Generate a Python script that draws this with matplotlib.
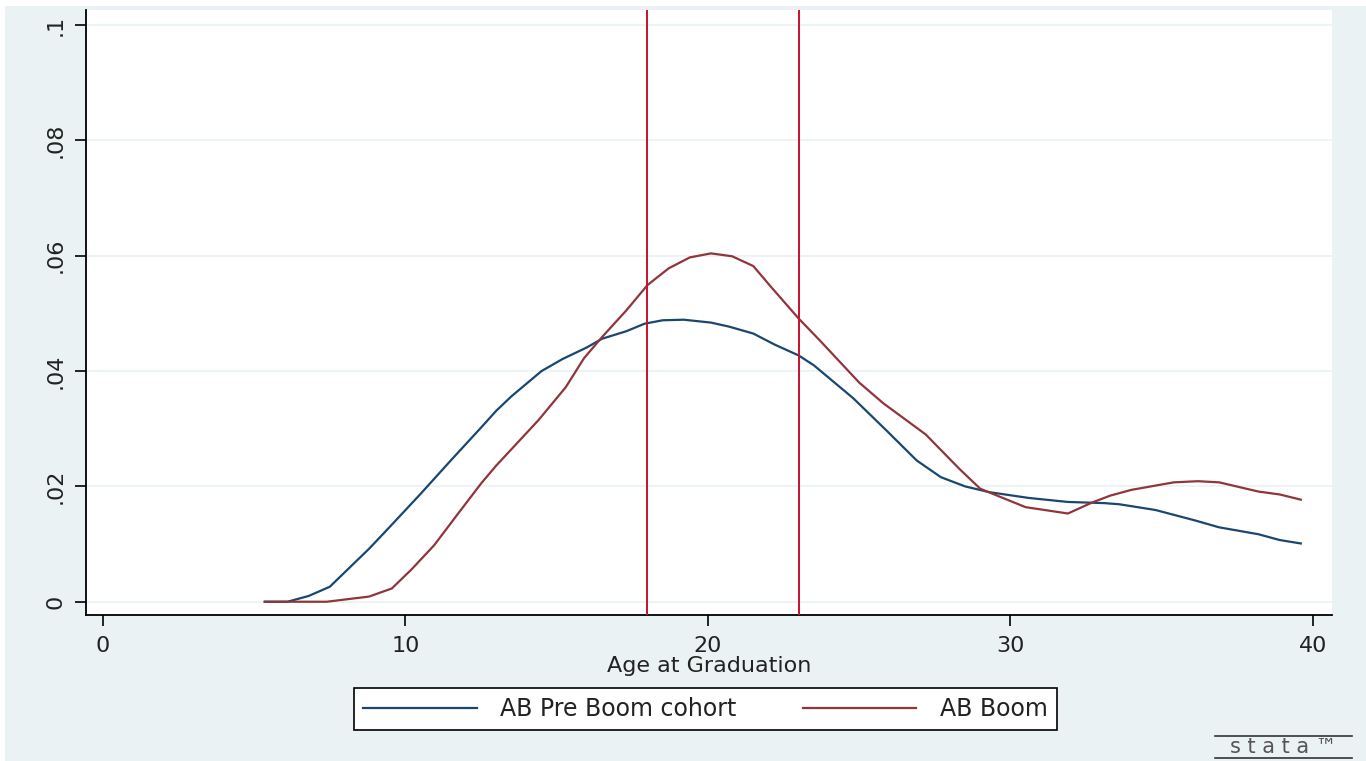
import matplotlib.pyplot as plt
from matplotlib.patches import Rectangle
from matplotlib.lines import Line2D

plt.rcParams['font.family'] = ['DejaVu Sans']

# kernel density estimates
age_pre = [5.35, 6.1, 6.8, 7.5, 8.8, 9.45, 10.5, 11.5, 12.5, 13.0, 13.5, 14.5, 15.2, 16.0,
           16.5, 17.3, 17.9, 18.5, 19.2, 20.1, 20.7, 21.5, 22.2, 23.0, 23.5, 24.8, 25.9,
           26.9, 27.7, 28.5, 29.3, 30.6, 31.9, 33.1, 33.6, 34.8, 36.1, 36.9, 38.2, 38.9, 39.6]
dens_pre = [0.0, 0.0, 0.001, 0.0026, 0.0092, 0.0128, 0.0187, 0.0245, 0.0302, 0.0331, 0.0356,
            0.040, 0.0421, 0.0441, 0.0456, 0.0469, 0.0482, 0.0488, 0.0489, 0.0484, 0.0477,
            0.0465, 0.0446, 0.0427, 0.041, 0.0353, 0.0297, 0.0245, 0.0216, 0.020, 0.019,
            0.018, 0.0173, 0.0171, 0.0169, 0.0159, 0.0141, 0.0129, 0.0117, 0.0107, 0.0101]

age_boom = [5.35, 7.4, 8.8, 9.55, 10.2, 10.95, 11.7, 12.5, 13.0, 14.4, 15.3, 15.9, 16.5,
            17.3, 18.0, 18.7, 19.4, 20.1, 20.8, 21.5, 22.1, 23.0, 23.7, 25.0, 25.8, 27.2,
            28.3, 29.0, 29.7, 30.5, 31.9, 32.7, 33.3, 34.0, 35.4, 36.2, 36.9, 38.2, 38.9, 39.6]
dens_boom = [0.0, 0.0, 0.0009, 0.0023, 0.0056, 0.0098, 0.015, 0.0205, 0.0236, 0.0315, 0.0372,
             0.0422, 0.0459, 0.0505, 0.0549, 0.0578, 0.0597, 0.0604, 0.0599, 0.0582, 0.0545,
             0.0491, 0.0453, 0.038, 0.0344, 0.029, 0.0231, 0.0196, 0.0181, 0.0164, 0.0153,
             0.0172, 0.0184, 0.0194, 0.0207, 0.0209, 0.0207, 0.0191, 0.0186, 0.0177]

cutoffs = [18, 23]
xticks = [0, 10, 20, 30, 40]
yticks = [0, 0.02, 0.04, 0.06, 0.08, 0.1]
ylabels = ['0', '.02', '.04', '.06', '.08', '.1']

bg = '#eaf2f3'
navy = '#1a476f'
maroon = '#90353b'

fig = plt.figure(figsize=(13.66, 7.61), dpi=100)
fig.patch.set_facecolor('white')
fig.patches.append(Rectangle((5 / 1366, 0), 1, 1 - 6 / 761, transform=fig.transFigure,
                             facecolor=bg, edgecolor='none', zorder=-10))

ax = fig.add_axes([86 / 1366, 1 - 615 / 761, (1332 - 86) / 1366, (615 - 10) / 761])
ax.set_facecolor('white')

for yv in yticks:
    ax.axhline(yv, color=bg, linewidth=1.2, zorder=1)

ax.plot(age_pre, dens_pre, color=navy, linewidth=1.6, label='AB Pre Boom cohort', zorder=3)
ax.plot(age_boom, dens_boom, color=maroon, linewidth=1.6, label='AB Boom', zorder=3)
for c in cutoffs:
    ax.axvline(c, color='#c8102e', linewidth=1.4, zorder=4)

ax.set_xlim(-0.56, 40.63)
ax.set_ylim(-0.0023, 0.1026)
ax.set_xticks(xticks)
ax.set_yticks(yticks)
ax.set_yticklabels(ylabels, rotation=90, va='center')
ax.tick_params(axis='both', labelsize=16, length=8, width=1.2, color='black', pad=7,
               labelcolor='#222222')

for side in ['top', 'right']:
    ax.spines[side].set_visible(False)
for side in ['left', 'bottom']:
    ax.spines[side].set_linewidth(1.3)

ax.set_xlabel('Age at Graduation', fontsize=16, labelpad=0, color='#222222')

leg = fig.legend(loc='center', bbox_to_anchor=(705.5 / 1366, 1 - 709 / 761), ncol=2,
                 fontsize=17, frameon=True, fancybox=False, edgecolor='black',
                 framealpha=1, facecolor='white',
                 handlelength=4.8, handletextpad=1.0, columnspacing=2.8, borderpad=0.4)
leg.get_frame().set_linewidth(1.2)
for t in leg.get_texts():
    t.set_color('#222222')

# stata logo
fig.text(1283 / 1366, 1 - 747 / 761, 's t a t a \u2122', fontsize=15, color='#555555',
         ha='center', va='center')
for yy in [736, 758]:
    fig.lines.append(Line2D([1215 / 1366, 1352 / 1366], [1 - yy / 761, 1 - yy / 761],
                            transform=fig.transFigure, color='#333333', linewidth=1.2))

fig.savefig('out.png', dpi=100, facecolor=fig.get_facecolor())
